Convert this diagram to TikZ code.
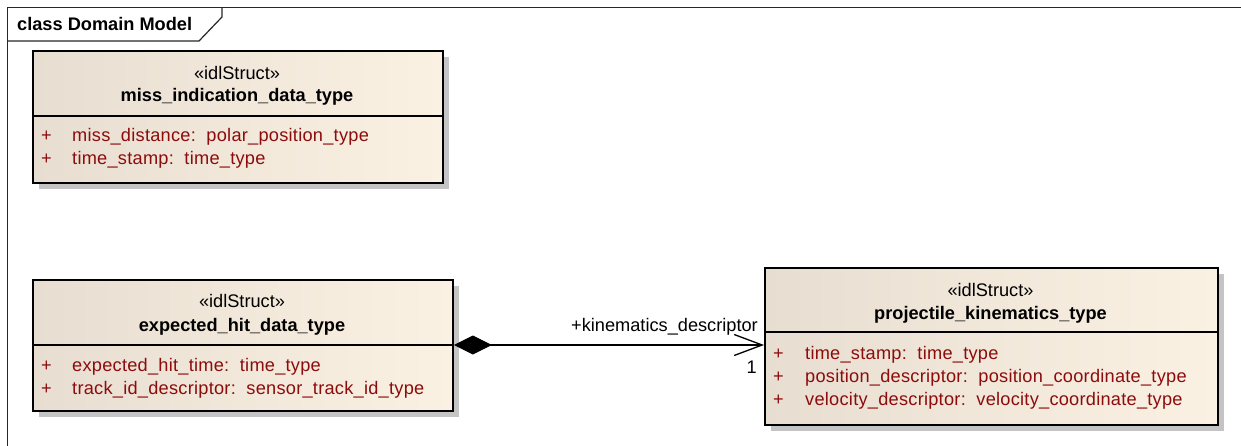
\documentclass[tikz,border=0pt]{standalone}
\usepackage{fontspec}
\setmainfont{Liberation Sans}
\newfontfamily\attrfont[LetterSpace=1.4]{Liberation Sans}
\usetikzlibrary{arrows.meta,shadows}
\definecolor{attrred}{RGB}{140,12,12}
\definecolor{boxleft}{RGB}{231,222,209}
\definecolor{boxright}{RGB}{251,241,227}
\definecolor{shadowgray}{RGB}{196,196,196}
\begin{document}
\begin{tikzpicture}[x=1pt,y=-1pt,
  umlbox/.style={draw=black, line width=1.8pt, anchor=north west, inner sep=0pt,
     left color=boxleft, right color=boxright,
     drop shadow={shadow xshift=6pt, shadow yshift=-6pt, fill=shadowgray, opacity=1}},
  stereo/.style={anchor=base, inner sep=0pt, font=\fontsize{18.2}{22}\selectfont},
  cname/.style={anchor=base, inner sep=0pt, font=\fontsize{18.2}{22}\selectfont\bfseries},
  attr/.style={anchor=base west, inner sep=0pt, text=attrred, font=\attrfont\fontsize{18.2}{22}\selectfont},
  lbl/.style={anchor=base east, inner sep=0pt, font=\fontsize{18.2}{22}\selectfont},
  sep/.style={line width=1.8pt},
  frameline/.style={line width=1.2pt, draw=black!85}
]
\useasboundingbox (0,0) rectangle (1241,446);
% frame
\draw[frameline] (7.5,446) -- (7.5,7.5) -- (1241,7.5);
\draw[frameline] (7.5,41) -- (199,41) -- (222,17) -- (222,7.5);
\node[anchor=base west, inner sep=0pt, font=\fontsize{18.2}{22}\selectfont\bfseries] (title) at (17,30.5) {class Domain Model};

% box 1
\node[umlbox, minimum width=410pt, minimum height=132pt] (b1) at (32,50) {};
\draw[sep] (32,116) -- (442,116);
\node[stereo] (b1s) at (237,80) {«idlStruct»};
\node[cname] (b1n) at (237,101.5) {miss\_indication\_data\_type};
\node[attr] (b1p1) at (41,142) {+};
\node[attr] (b1a1) at (72,142) {miss\_distance:\ \ polar\_position\_type};
\node[attr] (b1p2) at (41,165) {+};
\node[attr] (b1a2) at (72,165) {time\_stamp:\ \ time\_type};

% box 2
\node[umlbox, minimum width=420pt, minimum height=131pt] (b2) at (32,279) {};
\draw[sep] (32,345) -- (452,345);
\node[stereo] (b2s) at (242,307.5) {«idlStruct»};
\node[cname] (b2n) at (242,331) {expected\_hit\_data\_type};
\node[attr] (b2p1) at (41,371.5) {+};
\node[attr] (b2a1) at (72,371.5) {expected\_hit\_time:\ \ time\_type};
\node[attr] (b2p2) at (41,394) {+};
\node[attr] (b2a2) at (72,394) {track\_id\_descriptor:\ \ sensor\_track\_id\_type};

% box 3
\node[umlbox, minimum width=453pt, minimum height=157pt] (b3) at (764,267) {};
\draw[sep] (764,332) -- (1217,332);
\node[stereo] (b3s) at (990.5,296) {«idlStruct»};
\node[cname] (b3n) at (990.5,319) {projectile\_kinematics\_type};
\node[attr] (b3p1) at (773,359) {+};
\node[attr] (b3a1) at (805,359) {time\_stamp:\ \ time\_type};
\node[attr] (b3p2) at (773,382) {+};
\node[attr] (b3a2) at (805,382) {position\_descriptor:\ \ position\_coordinate\_type};
\node[attr] (b3p3) at (773,405) {+};
\node[attr] (b3a3) at (805,405) {velocity\_descriptor:\ \ velocity\_coordinate\_type};

% connector
\coordinate (cstart) at (b2.east |- 0,345);
\coordinate (cend) at (b3.west |- 0,345);
\draw[line width=1.3pt, {Diamond[length=38pt,width=19pt,fill=black]}-{Straight Barb[length=28pt,width=21pt,line width=1.3pt]}] (cstart) -- (cend);
\node[lbl] (rolelbl) at (758,331.5) {+kinematics\_descriptor};
\node[lbl] (multlbl) at (757,373) {1};
\end{tikzpicture}
\end{document}
